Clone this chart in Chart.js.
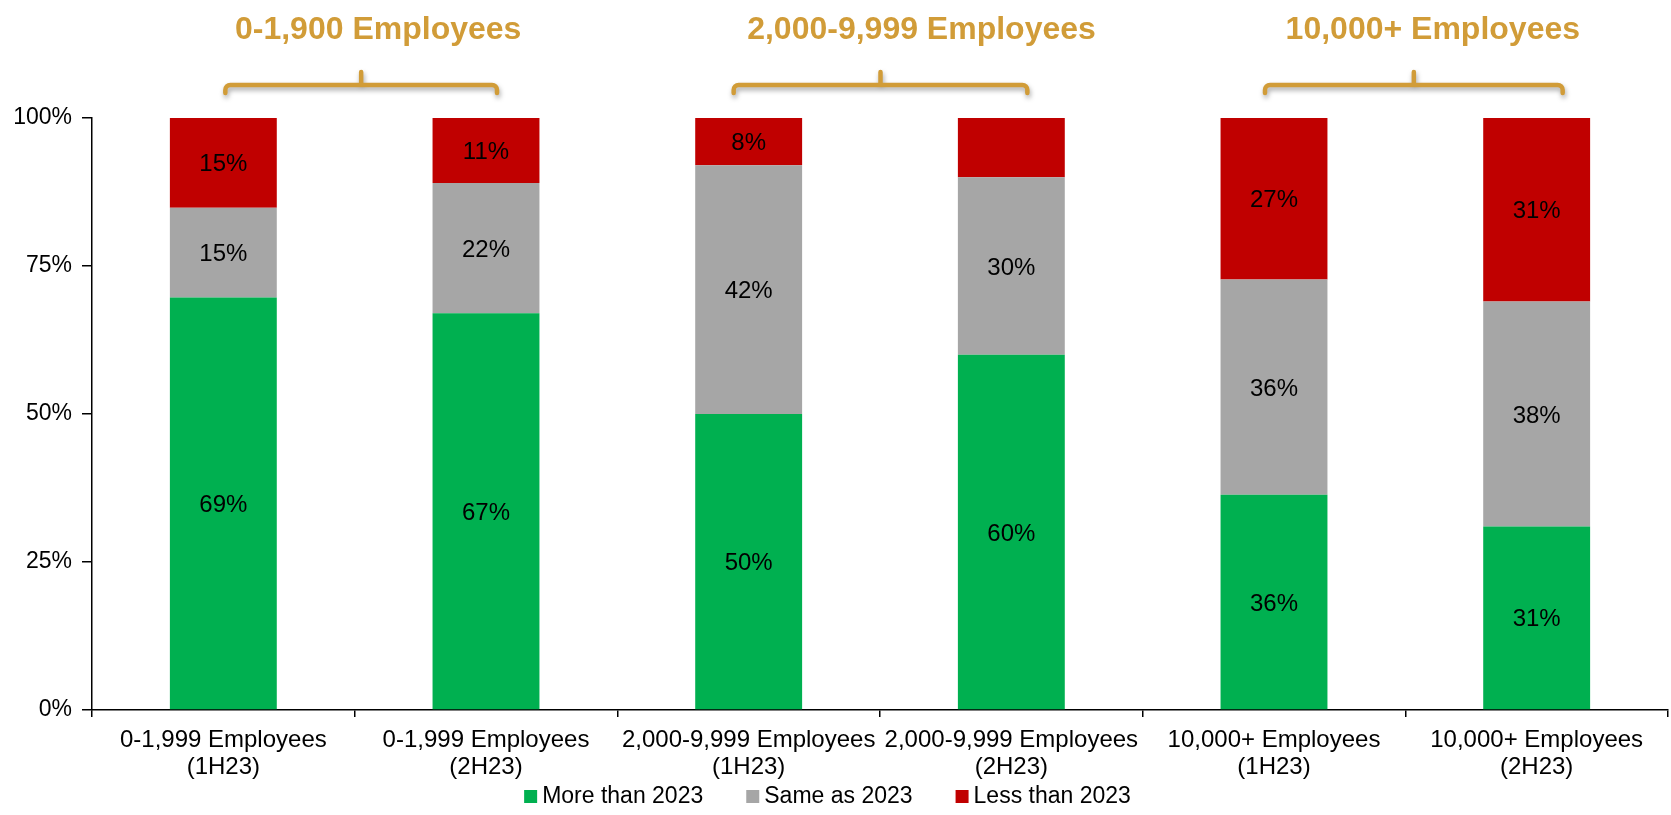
<!DOCTYPE html>
<html>
<head>
<meta charset="utf-8">
<title>Headcount plans by company size</title>
<script src="https://cdn.jsdelivr.net/npm/chart.js@4.4.1/dist/chart.umd.min.js"></script>
<style>
  html, body { margin: 0; padding: 0; background: #fff; }
  #wrap { width: 1671px; height: 815px; }
</style>
</head>
<body>
<div id="wrap"><canvas id="surveyChart" width="1671" height="815"></canvas></div>
<script>
// Survey answers per company size / half-year (percent of respondents)
const categories = [
  ["0-1,999 Employees", "(1H23)"],
  ["0-1,999 Employees", "(2H23)"],
  ["2,000-9,999 Employees", "(1H23)"],
  ["2,000-9,999 Employees", "(2H23)"],
  ["10,000+ Employees", "(1H23)"],
  ["10,000+ Employees", "(2H23)"]
];
const moreThan2023 = [69, 67, 50, 60, 36, 31];
const sameAs2023 = [15, 22, 42, 30, 36, 38];
const lessThan2023 = [15, 11, 8, 10, 27, 31];
const lessThanLabelled = [true, true, true, false, true, true];

const seriesNames = ["More than 2023", "Same as 2023", "Less than 2023"];
const seriesColors = ["#00B050", "#A6A6A6", "#C00000"];
const groupTitles = ["0-1,900 Employees", "2,000-9,999 Employees", "10,000+ Employees"];
const yTicks = [0, 25, 50, 75, 100];

// bracket ends (px beyond the two bar centres) and title shift per group
const bracketReach = [[2, 11], [-15, 16], [-9, 26]];
const titleShift = [17, 41, 19];

const FONT = "'Liberation Sans', Arial, sans-serif";
const GOLD = "#D19C38";

// 100% stacked: each column is scaled to its own total
const totals = moreThan2023.map((v, i) => v + sameAs2023[i] + lessThan2023[i]);
const share = arr => arr.map((v, i) => v / totals[i] * 100);

const rawValues = [moreThan2023, sameAs2023, lessThan2023];
const labelFlags = [null, null, lessThanLabelled];

// prints the percentage in the middle of each segment
const segmentLabels = {
  id: "segmentLabels",
  afterDatasetsDraw(chart) {
    const ctx = chart.ctx;
    ctx.save();
    ctx.font = "24px " + FONT;
    ctx.fillStyle = "#000";
    ctx.textAlign = "center";
    ctx.textBaseline = "middle";
    chart.data.datasets.forEach((ds, d) => {
      chart.getDatasetMeta(d).data.forEach((bar, i) => {
        if (labelFlags[d] && !labelFlags[d][i]) return;
        const y = (bar.y + bar.base) / 2;
        ctx.fillText(rawValues[d][i] + "%", bar.x, y + 2);
      });
    });
    ctx.restore();
  }
};

// gold brackets + titles over each pair of columns
const groupBrackets = {
  id: "groupBrackets",
  afterDraw(chart) {
    const ctx = chart.ctx;
    const x = chart.scales.x;
    const yLine = 85, yEnd = 93, yNub = 72, r = 5;

    groupTitles.forEach((title, g) => {
      const left = x.getPixelForValue(g * 2) + bracketReach[g][0];
      const right = x.getPixelForValue(g * 2 + 1) + bracketReach[g][1];
      const cx = (left + right) / 2;

      ctx.save();
      ctx.strokeStyle = GOLD;
      ctx.lineWidth = 4.5;
      ctx.lineCap = "round";
      ctx.lineJoin = "round";
      ctx.shadowColor = "rgba(0,0,0,0.35)";
      ctx.shadowBlur = 5;
      ctx.shadowOffsetX = 1;
      ctx.shadowOffsetY = 3;
      ctx.beginPath();
      ctx.moveTo(left, yEnd);
      ctx.arcTo(left, yLine, cx, yLine, r);
      ctx.arcTo(right, yLine, right, yEnd, r);
      ctx.lineTo(right, yEnd);
      ctx.moveTo(cx, yLine);
      ctx.lineTo(cx, yNub);
      ctx.stroke();
      ctx.restore();

      ctx.save();
      ctx.font = "bold 32px " + FONT;
      ctx.fillStyle = GOLD;
      ctx.textAlign = "center";
      ctx.textBaseline = "alphabetic";
      ctx.fillText(title, cx + titleShift[g], 39);
      ctx.restore();
    });
  }
};

// legend row under the axis labels
const bottomLegend = {
  id: "bottomLegend",
  afterDraw(chart) {
    const ctx = chart.ctx;
    const box = 13, gapText = 5, gapItem = 43;
    ctx.save();
    ctx.font = "23px " + FONT;
    const widths = seriesNames.map(n => ctx.measureText(n).width);
    const total = widths.reduce((a, w) => a + box + gapText + w, 0) + gapItem * (seriesNames.length - 1);
    let xPos = chart.width / 2 - 8 - total / 2;
    const baseY = 803;
    seriesNames.forEach((name, i) => {
      ctx.fillStyle = seriesColors[i];
      ctx.fillRect(xPos, baseY - 13, box, box);
      ctx.fillStyle = "#000";
      ctx.textAlign = "left";
      ctx.textBaseline = "alphabetic";
      ctx.fillText(name, xPos + box + gapText, baseY);
      xPos += box + gapText + widths[i] + gapItem;
    });
    ctx.restore();
  }
};

new Chart(document.getElementById("surveyChart"), {
  type: "bar",
  data: {
    labels: categories,
    datasets: [
      { label: seriesNames[0], data: share(moreThan2023), backgroundColor: seriesColors[0] },
      { label: seriesNames[1], data: share(sameAs2023), backgroundColor: seriesColors[1] },
      { label: seriesNames[2], data: share(lessThan2023), backgroundColor: seriesColors[2] }
    ]
  },
  options: {
    responsive: false,
    animation: false,
    datasets: {
      bar: { categoryPercentage: 1, barPercentage: 0.407, borderWidth: 0 }
    },
    layout: { padding: { top: 118, right: 3, bottom: 20, left: 0 } },
    plugins: {
      legend: { display: false },
      tooltip: { enabled: false }
    },
    scales: {
      x: {
        stacked: true,
        grid: { offset: true, drawOnChartArea: false, drawTicks: true, tickLength: 7, color: "#000", lineWidth: 1.5 },
        border: { color: "#000", width: 1.5 },
        ticks: {
          color: "#000",
          font: { family: FONT, size: 24, lineHeight: 27 / 24 },
          padding: 10,
          maxRotation: 0,
          autoSkip: false
        },
        afterFit: scale => { scale.height = 85; }
      },
      y: {
        stacked: true,
        min: 0,
        max: 100,
        afterBuildTicks: axis => { axis.ticks = yTicks.map(v => ({ value: v })); },
        grid: { drawOnChartArea: false, drawTicks: true, tickLength: 10, color: "#000", lineWidth: 1.5 },
        border: { color: "#000", width: 1.5 },
        ticks: {
          color: "#000",
          font: { family: FONT, size: 23 },
          padding: 10,
          callback: v => v + "%"
        },
        afterFit: scale => { scale.width = 92; }
      }
    }
  },
  plugins: [segmentLabels, groupBrackets, bottomLegend]
});
</script>
</body>
</html>
